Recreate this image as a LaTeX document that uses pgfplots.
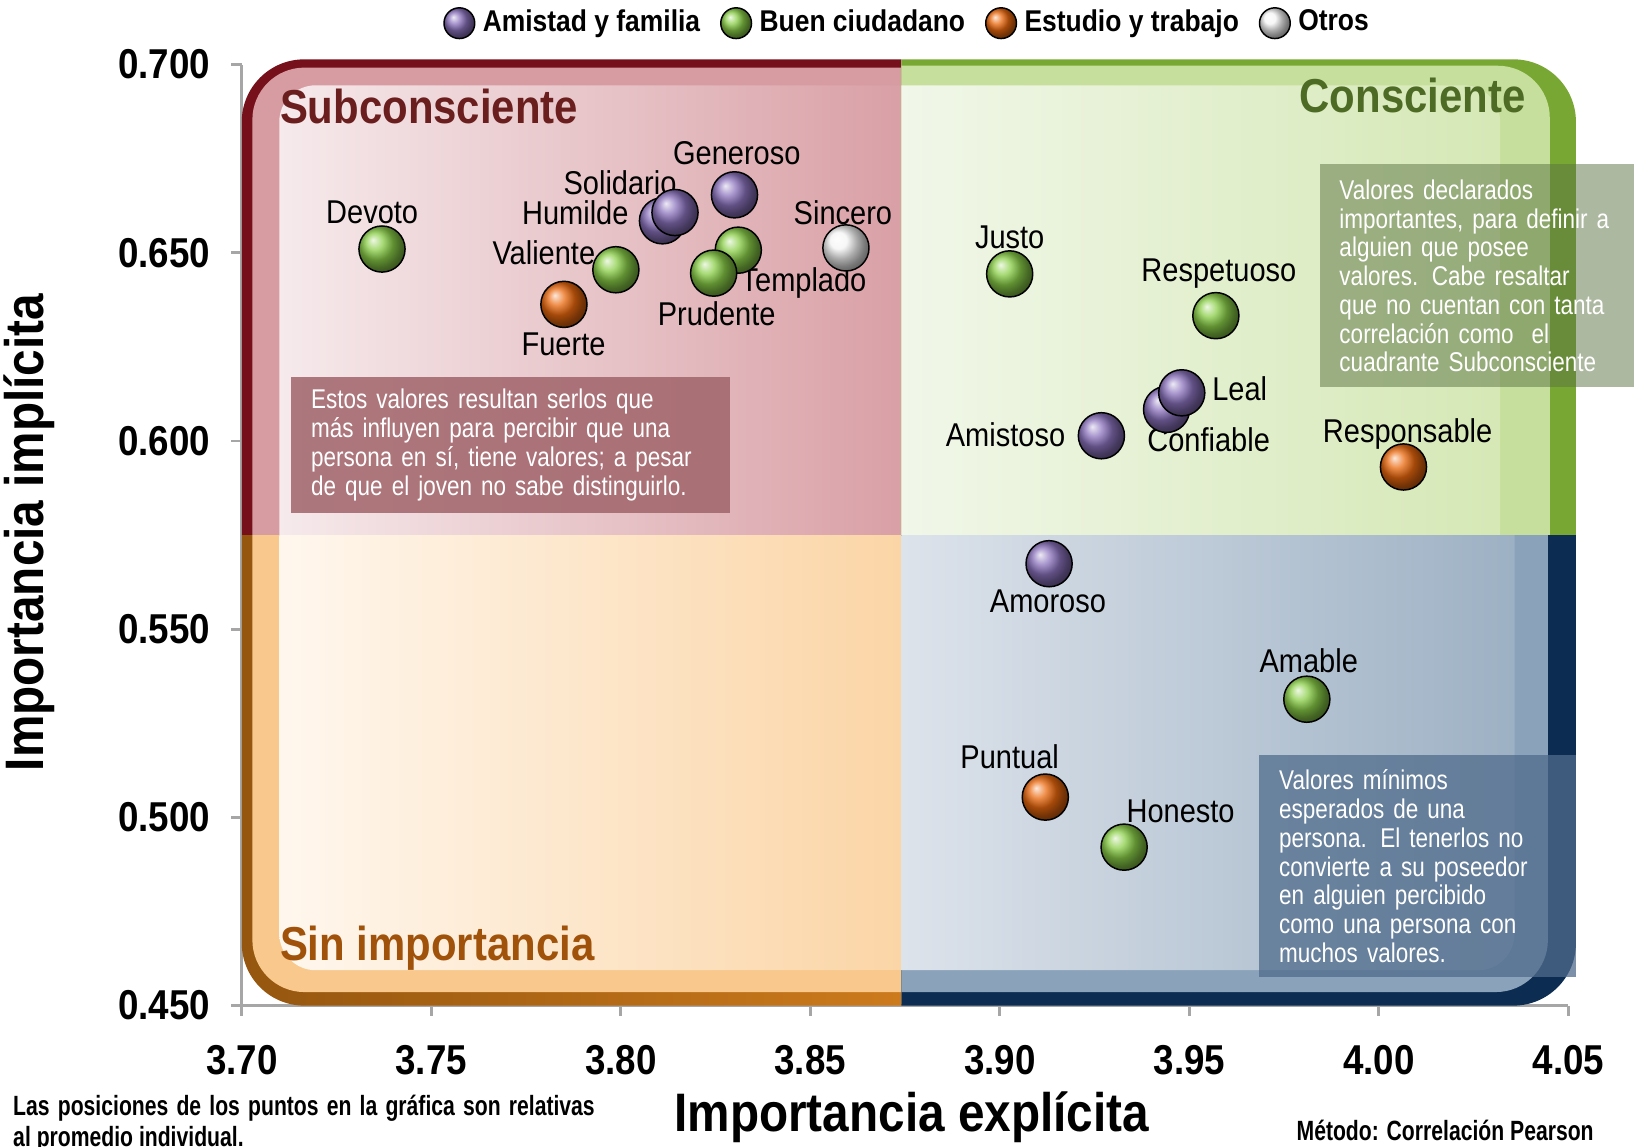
\documentclass[border=0pt]{standalone}
\usepackage{fontspec}
\setmainfont{Liberation Sans}[FakeStretch=0.88]
\newfontfamily\narrow{Liberation Sans}[FakeStretch=0.76]
\newfontfamily\boxfam{Liberation Sans}[FakeStretch=0.83]
\usepackage{pgfplots}
\pgfplotsset{compat=1.18}
\usetikzlibrary{shadings}

% ball colours
\definecolor{cPur}{RGB}{138,114,188}
\definecolor{cGrn}{RGB}{138,206,72}
\definecolor{cOra}{RGB}{234,104,14}
\definecolor{cWht}{RGB}{244,244,244}
% quadrant colours
\definecolor{tlBorder}{RGB}{118,16,26}
\definecolor{tlBand}{RGB}{214,156,162}
\definecolor{tlL}{RGB}{246,234,236}
\definecolor{tlR}{RGB}{217,160,166}
\definecolor{trBorder}{RGB}{120,168,51}
\definecolor{trBand}{RGB}{198,223,156}
\definecolor{trL}{RGB}{241,247,233}
\definecolor{trR}{RGB}{213,232,181}
\definecolor{blBorderL}{RGB}{149,86,15}
\definecolor{blBorderR}{RGB}{204,122,28}
\definecolor{blBand}{RGB}{248,200,140}
\definecolor{blL}{RGB}{255,247,238}
\definecolor{blR}{RGB}{251,213,166}
\definecolor{brBorder}{RGB}{12,44,81}
\definecolor{brBand}{RGB}{138,162,186}
\definecolor{brL}{RGB}{221,227,235}
\definecolor{brR}{RGB}{157,177,196}
% boxes and titles
\definecolor{redBox}{RGB}{160,100,106}
\definecolor{grnBox}{RGB}{90,114,65}
\definecolor{bluBox}{RGB}{80,108,140}
\definecolor{tSub}{RGB}{107,30,30}
\definecolor{tCon}{RGB}{78,107,38}
\definecolor{tSin}{RGB}{160,82,10}

\newcommand{\lbl}{\fontsize{9}{10}\selectfont}
\newcommand{\boxfont}{\boxfam\fontsize{7.4}{7.85}\selectfont}
\newcommand{\qfont}{\fontsize{13}{14}\selectfont\bfseries}

\begin{document}
\begin{tikzpicture}
\begin{axis}[
  scale only axis, width=12.73cm, height=9.03cm,
  xmin=3.70, xmax=4.05, ymin=0.45, ymax=0.70,
  clip=false,
  axis lines*=left,
  axis line style={gray!70, line width=0.8pt},
  xtick pos=bottom, ytick pos=left,
  tick align=outside, major tick length=0.1cm,
  tick style={gray!70, line width=0.8pt},
  xtick={3.70,3.75,3.80,3.85,3.90,3.95,4.00,4.05},
  ytick={0.45,0.50,0.55,0.60,0.65,0.70},
  xticklabel style={yshift=-0.16cm, /pgf/number format/.cd, fixed, fixed zerofill, precision=2, assume math mode=true},
  yticklabel style={xshift=-0.08cm, /pgf/number format/.cd, fixed, fixed zerofill, precision=3, assume math mode=true},
  tick label style={font=\fontsize{11.4}{12}\selectfont\bfseries},
  xlabel={Importancia explícita},
  ylabel={Importancia implícita},
  label style={font=\fontsize{14.8}{16}\selectfont\bfseries},
  xlabel style={at={(axis description cs:0.505,-0.1185)}, anchor=center},
  ylabel style={at={(axis description cs:-0.1603,0.5028)}, anchor=center},
  legend style={at={(0.5035,1.044)}, anchor=center, draw=none, fill=none,
    legend columns=4, font=\fontsize{8.2}{9}\selectfont\bfseries,
    /tikz/every even column/.append style={column sep=0.12cm}},
  legend image post style={mark size=4.2pt},
]
% ---- quadrant frames: border, band, interior ---------------------------
% top left: Subconsciente
\fill[tlBorder] (axis cs:3.874,0.575) -- (axis cs:3.70,0.575) [rounded corners=0.6cm] -- (axis cs:3.70,0.7014) [sharp corners] -- (axis cs:3.874,0.7014) -- cycle;
\fill[tlBand] (axis cs:3.874,0.575) -- (axis cs:3.7028,0.575) [rounded corners=0.5cm] -- (axis cs:3.7028,0.6992) [sharp corners] -- (axis cs:3.874,0.6992) -- cycle;
\shade[left color=tlL, right color=tlR] (axis cs:3.874,0.575) -- (axis cs:3.7099,0.575) [rounded corners=0.35cm] -- (axis cs:3.7099,0.6945) [sharp corners] -- (axis cs:3.874,0.6945) -- cycle;
% top right: Consciente
\fill[trBorder] (axis cs:3.874,0.575) -- (axis cs:3.874,0.7014) [rounded corners=0.6cm] -- (axis cs:4.052,0.7014) [sharp corners] -- (axis cs:4.052,0.575) -- cycle;
\fill[trBand] (axis cs:3.874,0.575) -- (axis cs:3.874,0.6997) [rounded corners=0.5cm] -- (axis cs:4.0451,0.6997) [sharp corners] -- (axis cs:4.0451,0.575) -- cycle;
\shade[left color=trL, right color=trR] (axis cs:3.874,0.575) -- (axis cs:3.874,0.6945) [rounded corners=0.35cm] -- (axis cs:4.032,0.6945) [sharp corners] -- (axis cs:4.032,0.575) -- cycle;
% bottom left: Sin importancia
\shade[left color=blBorderL, right color=blBorderR] (axis cs:3.874,0.575) -- (axis cs:3.70,0.575) [rounded corners=0.6cm] -- (axis cs:3.70,0.45) [sharp corners] -- (axis cs:3.874,0.45) -- cycle;
\fill[blBand] (axis cs:3.874,0.575) -- (axis cs:3.7028,0.575) [rounded corners=0.5cm] -- (axis cs:3.7028,0.4536) [sharp corners] -- (axis cs:3.874,0.4536) -- cycle;
\shade[left color=blL, right color=blR] (axis cs:3.874,0.575) -- (axis cs:3.7099,0.575) [rounded corners=0.35cm] -- (axis cs:3.7099,0.4594) [sharp corners] -- (axis cs:3.874,0.4594) -- cycle;
% bottom right
\fill[brBorder] (axis cs:3.874,0.575) -- (axis cs:4.052,0.575) [rounded corners=0.6cm] -- (axis cs:4.052,0.45) [sharp corners] -- (axis cs:3.874,0.45) -- cycle;
\fill[brBand] (axis cs:3.874,0.575) -- (axis cs:4.0446,0.575) [rounded corners=0.5cm] -- (axis cs:4.0446,0.4536) [sharp corners] -- (axis cs:3.874,0.4536) -- cycle;
\shade[left color=brL, right color=brR] (axis cs:3.874,0.575) -- (axis cs:4.0358,0.575) [rounded corners=0.35cm] -- (axis cs:4.0358,0.4594) [sharp corners] -- (axis cs:3.874,0.4594) -- cycle;

% ---- quadrant titles ---------------------------------------------------
\node[anchor=west, inner sep=0pt, font=\qfont, text=tSub] at (axis cs:3.7099,0.6889) {Subconsciente};
\node[anchor=east, inner sep=0pt, font=\qfont, text=tCon] at (axis cs:4.0389,0.6917) {Consciente};
\node[anchor=west, inner sep=0pt, font=\qfont, text=tSin] at (axis cs:3.7099,0.4652) {Sin importancia};

% ---- comment boxes -----------------------------------------------------
\node[anchor=north west, fill=redBox, fill opacity=0.85, text opacity=1, text=white,
  text width=3.83cm, inner xsep=0.19cm, inner ysep=0.12cm, minimum height=1.30cm,
  align=left, font=\boxfont] at (axis cs:3.7129,0.6173)
  {Estos valores resultan serlos que\\ más influyen para percibir que una\\ persona en sí, tiene valores; a pesar\\ de que el joven no sabe distinguirlo.};
\node[anchor=north west, fill=grnBox, fill opacity=0.5, text opacity=1, text=white,
  text width=2.95cm, inner xsep=0.19cm, inner ysep=0.12cm, minimum height=2.14cm,
  align=left, font=\boxfont] at (axis cs:3.9842,0.6737)
  {Valores declarados\\ importantes, para definir a\\ alguien que posee\\ valores. Cabe resaltar\\ que no cuentan con tanta\\ correlación como~ el\\ cuadrante Subconsciente};
\node[anchor=north west, fill=bluBox, fill opacity=0.75, text opacity=1, text=white,
  text width=2.66cm, inner xsep=0.19cm, inner ysep=0.12cm, minimum height=2.13cm,
  align=left, font=\boxfont] at (axis cs:3.9683,0.5167)
  {Valores mínimos\\ esperados de una\\ persona. El tenerlos no\\ convierte a su poseedor\\ en alguien percibido\\ como una persona con\\ muchos valores.};

% ---- data --------------------------------------------------------------
\addplot[only marks, mark=ball, mark size=6.3pt, mark options={ball color=cPur}] coordinates {
  (3.811,0.6585) (3.8143,0.6607) (3.830,0.6654)
  (3.944,0.6084) (3.948,0.6128) (3.9268,0.6014) (3.913,0.5674)
}; \addlegendentry{Amistad y familia}
\addplot[only marks, mark=ball, mark size=6.3pt, mark options={ball color=cGrn}] coordinates {
  (3.737,0.651) (3.7987,0.6455) (3.831,0.6507) (3.8245,0.6446)
  (3.9026,0.6444) (3.957,0.6333) (3.981,0.5314) (3.9328,0.4921)
}; \addlegendentry{Buen ciudadano}
\addplot[only marks, mark=ball, mark size=6.3pt, mark options={ball color=cOra}] coordinates {
  (3.785,0.6363) (4.0065,0.5931) (3.912,0.5054)
}; \addlegendentry{Estudio y trabajo}
\addplot[only marks, mark=ball, mark size=6.3pt, mark options={ball color=cWht}] coordinates {
  (3.8594,0.6513)
}; \addlegendentry{Otros}

% ---- point labels ------------------------------------------------------
\node[font=\lbl] at (axis cs:3.7344,0.6607) {Devoto};
\node[font=\lbl] at (axis cs:3.7797,0.6499) {Valiente};
\node[font=\lbl] at (axis cs:3.7849,0.6258) {Fuerte};
\node[font=\lbl] at (axis cs:3.7880,0.6607) {Humilde};
\node[font=\lbl] at (axis cs:3.7998,0.6687) {Solidario};
\node[font=\lbl] at (axis cs:3.8306,0.6765) {Generoso};
\node[font=\lbl] at (axis cs:3.8586,0.6607) {Sincero};
\node[font=\lbl] at (axis cs:3.8482,0.6419) {Templado};
\node[font=\lbl] at (axis cs:3.8253,0.6338) {Prudente};
\node[font=\lbl] at (axis cs:3.9026,0.6540) {Justo};
\node[font=\lbl] at (axis cs:3.9578,0.6444) {Respetuoso};
\node[font=\lbl] at (axis cs:3.9633,0.6139) {Leal};
\node[font=\lbl] at (axis cs:3.9551,0.6003) {Confiable};
\node[font=\lbl] at (axis cs:3.9015,0.6017) {Amistoso};
\node[font=\lbl] at (axis cs:4.0076,0.6020) {Responsable};
\node[font=\lbl] at (axis cs:3.9127,0.5574) {Amoroso};
\node[font=\lbl] at (axis cs:3.9815,0.5416) {Amable};
\node[font=\lbl] at (axis cs:3.9026,0.5162) {Puntual};
\node[font=\lbl] at (axis cs:3.9477,0.5015) {Honesto};

% ---- footnotes ---------------------------------------------------------
\node[anchor=north west, text width=5.58cm, align=justify, inner sep=0pt,
  font=\narrow\fontsize{7.6}{8.4}\selectfont\bfseries] at (axis description cs:-0.1728,-0.0941)
  {Las posiciones de los puntos en la gráfica son relativas\linebreak al promedio individual.};
\node[anchor=east, inner sep=0pt, font=\narrow\fontsize{7.6}{8}\selectfont\bfseries]
  at (axis description cs:1.0196,-0.1329) {Método: Correlación Pearson};
\end{axis}
\pgfresetboundingbox
\path ([shift={(-2.32cm,-1.35cm)}]current axis.south west) rectangle ([shift={(0.63cm,0.62cm)}]current axis.north east);
\end{tikzpicture}
\end{document}
